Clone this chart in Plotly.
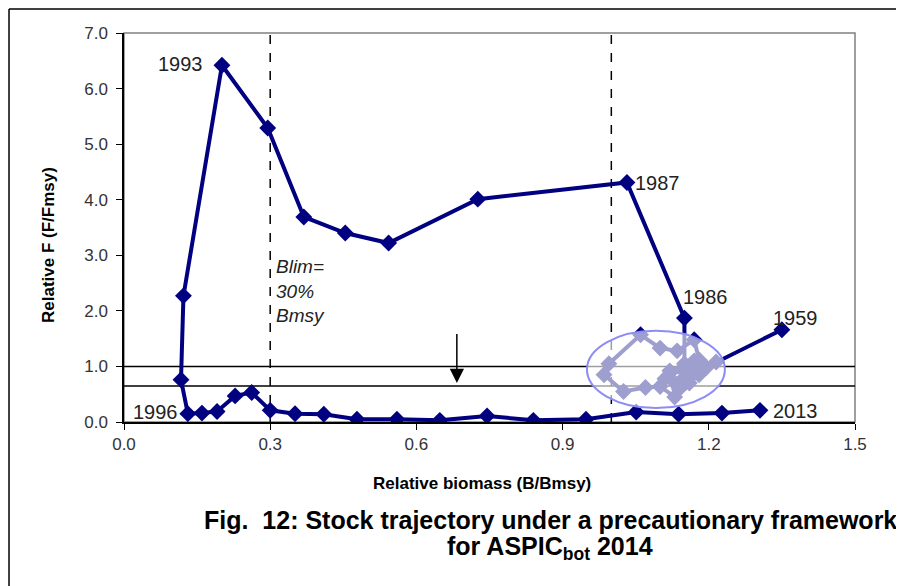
import plotly.graph_objects as go

years = list(range(1959, 2014))
rel_biomass = [1.350, 1.215, 1.195, 1.175, 1.180, 1.170, 1.135, 1.100, 1.060, 0.995,
               0.985, 1.025, 1.070, 1.100, 1.130, 1.125, 1.120, 1.150, 1.180, 1.160,
               1.140, 1.110, 1.145, 1.170, 1.160, 1.150, 1.150, 1.150, 1.032, 0.726,
               0.543, 0.454, 0.369, 0.295, 0.201, 0.122, 0.117, 0.131, 0.160, 0.191,
               0.228, 0.262, 0.300, 0.351, 0.410, 0.478, 0.560, 0.648, 0.745, 0.840,
               0.948, 1.051, 1.138, 1.227, 1.305]
rel_f = [1.66, 1.08, 0.98, 0.90, 1.12, 1.48, 1.28, 1.33, 1.57, 1.05,
         0.85, 0.55, 0.62, 0.64, 0.45, 0.75, 0.92, 1.00, 0.85, 0.70,
         0.60, 0.78, 0.95, 1.10, 0.88, 0.80, 1.05, 1.87, 4.31, 4.01,
         3.22, 3.40, 3.69, 5.29, 6.42, 2.27, 0.76, 0.15, 0.16, 0.19,
         0.47, 0.53, 0.21, 0.15, 0.14, 0.05, 0.05, 0.03, 0.11, 0.03,
         0.05, 0.18, 0.14, 0.16, 0.21]

x_ticks = [0.0, 0.3, 0.6, 0.9, 1.2, 1.5]
y_ticks = [0.0, 1.0, 2.0, 3.0, 4.0, 5.0, 6.0, 7.0]
blim = 0.3
bmsy = 1.0
f_ref_lines = [1.0, 0.65]

NAVY = "#000080"
FONT = "Liberation Sans, Arial, sans-serif"

fig = go.Figure()
fig.add_trace(go.Scatter(
    x=rel_biomass, y=rel_f, mode="lines+markers",
    line=dict(color=NAVY, width=4),
    marker=dict(symbol="diamond", size=13, color=NAVY),
    text=[str(y) for y in years], hoverinfo="text+x+y", showlegend=False,
))

shapes = []
shapes.append(dict(type="rect", xref="paper", yref="paper", x0=0, x1=1, y0=0, y1=1,
                   line=dict(color="#808080", width=1.5), layer="below"))
for v in [blim, bmsy]:
    shapes.append(dict(type="line", xref="x", yref="y", x0=v, x1=v, y0=0, y1=7,
                       line=dict(color="black", width=1.5, dash="dash"), layer="below"))
for h in f_ref_lines:
    shapes.append(dict(type="line", xref="x", yref="y", x0=0, x1=1.5, y0=h, y1=h,
                       line=dict(color="black", width=1.5), layer="below"))
shapes.append(dict(type="circle", xref="x", yref="y", x0=0.950, x1=1.233, y0=0.25, y1=1.64,
                   fillcolor="rgba(255,255,255,0.62)", line=dict(color="#8c8cf5", width=2),
                   layer="above"))
# outer document frame (left and top edges)
shapes.append(dict(type="line", xref="paper", yref="paper", x0=-0.1573, x1=-0.1573, y0=-0.6, y1=1.0617,
                   line=dict(color="black", width=1.5), layer="below"))
shapes.append(dict(type="line", xref="paper", yref="paper", x0=-0.1573, x1=1.2, y0=1.0617, y1=1.0617,
                   line=dict(color="black", width=1.5), layer="below"))

lab_font = dict(family=FONT, size=20, color="#222222")
annotations = [
    dict(x=0.166, y=6.44, text="1993", xanchor="right", yanchor="middle"),
    dict(x=1.045, y=4.30, text="1987", xanchor="left", yanchor="middle"),
    dict(x=1.194, y=2.25, text="1986", xanchor="center", yanchor="middle"),
    dict(x=1.377, y=1.87, text="1959", xanchor="center", yanchor="middle"),
    dict(x=0.115, y=0.18, text="1996", xanchor="right", yanchor="middle"),
    dict(x=1.328, y=0.20, text="2013", xanchor="left", yanchor="middle"),
]
for a in annotations:
    a.update(xref="x", yref="y", showarrow=False, font=lab_font)

annotations.append(dict(x=0.308, y=3.02, xref="x", yref="y", text="<i>Blim=<br>30%<br>Bmsy</i>",
                        showarrow=False, xanchor="left", yanchor="top", align="left",
                        font=dict(family=FONT, size=19, color="#222222")))
annotations.append(dict(x=0.683, y=0.70, ax=0.683, ay=1.61, xref="x", yref="y", axref="x", ayref="y",
                        text="", showarrow=True, arrowhead=2, arrowsize=1.9, arrowwidth=1.5,
                        arrowcolor="black"))
annotations.append(dict(x=0.490, y=-0.159, xref="paper", yref="paper", showarrow=False,
                        text="<b>Relative biomass (B/Bmsy)</b>", xanchor="center", yanchor="middle",
                        font=dict(family=FONT, size=17, color="black")))
annotations.append(dict(x=-0.104, y=0.455, xref="paper", yref="paper", showarrow=False, textangle=-90,
                        text="<b>Relative F (F/Fmsy)</b>", xanchor="center", yanchor="middle",
                        font=dict(family=FONT, size=17, color="black")))
cap_font = dict(family=FONT, size=25, color="black")
annotations.append(dict(x=0.5828, y=-0.252, xref="paper", yref="paper", showarrow=False,
                        text="<b>Fig.  12: Stock trajectory under a precautionary framework</b>",
                        xanchor="center", yanchor="middle", font=cap_font))
annotations.append(dict(x=0.5828, y=-0.324, xref="paper", yref="paper", showarrow=False,
                        text="<b>for ASPIC<sub>bot</sub> 2014</b>",
                        xanchor="center", yanchor="middle", font=cap_font))

fig.update_layout(
    width=896, height=578,
    margin=dict(l=116, r=49, t=25, b=164),
    paper_bgcolor="white", plot_bgcolor="white",
    shapes=shapes, annotations=annotations,
    xaxis=dict(range=[0, 1.5], tickvals=x_ticks, ticktext=[f"{v:.1f}" for v in x_ticks],
               showline=True, linecolor="black", linewidth=1.5, ticks="outside", ticklen=6,
               tickcolor="black", showgrid=False, zeroline=False,
               tickfont=dict(family=FONT, size=17, color="#333333")),
    yaxis=dict(range=[0, 7], tickvals=y_ticks, ticktext=[f"{v:.1f}" for v in y_ticks],
               showline=True, linecolor="black", linewidth=1.5, ticks="outside", ticklen=6,
               tickcolor="black", showgrid=False, zeroline=False, ticklabelstandoff=5,
               tickfont=dict(family=FONT, size=17, color="#333333")),
)

fig.write_html("out.html")
